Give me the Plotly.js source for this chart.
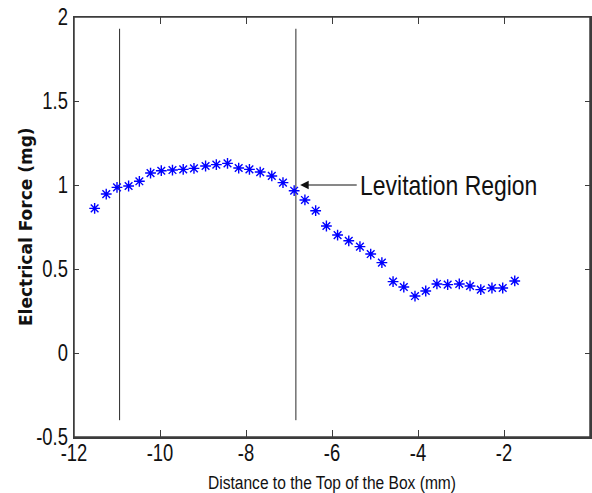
<!DOCTYPE html>
<html>
<head>
<meta charset="utf-8">
<script src="https://cdn.plot.ly/plotly-3.0.1.min.js"></script>
<style>
  html, body { margin: 0; padding: 0; background: #ffffff; }
  #chart { width: 592px; height: 493px; }
</style>
</head>
<body>
<div id="chart"></div>
<script>
// Measured electrical force vs. distance to the top of the box
const distanceMm = [
  -11.52, -11.25, -11.00, -10.73, -10.48, -10.22, -9.97, -9.71, -9.46, -9.21,
  -8.94, -8.69, -8.43, -8.17, -7.92, -7.67, -7.40, -7.14, -6.88, -6.63,
  -6.38, -6.13, -5.87, -5.61, -5.35, -5.10, -4.84, -4.58, -4.33, -4.07,
  -3.82, -3.56, -3.31, -3.04, -2.79, -2.54, -2.28, -2.03, -1.75
];
const forceMg = [
  0.861, 0.946, 0.986, 0.994, 1.022, 1.071, 1.085, 1.089, 1.093, 1.099,
  1.113, 1.121, 1.129, 1.101, 1.093, 1.077, 1.054, 1.014, 0.966, 0.911,
  0.847, 0.756, 0.702, 0.668, 0.633, 0.589, 0.538, 0.425, 0.393, 0.339,
  0.369, 0.411, 0.407, 0.411, 0.399, 0.377, 0.387, 0.387, 0.429
];

// Boundaries of the levitation region and the vertical extent of the marker lines
const regionBounds = [-10.94, -6.84];
const boundSpan = [-0.40, 1.93];

// Arrow of the "Levitation Region" label: head point and tail point
const arrowHead = [-6.74, 1.0];
const arrowTail = [-5.39, 1.0];
const regionLabel = 'Levitation Region';

// Axis ranges and tick labels
const xRange = [-12, 0];
const yRange = [-0.5, 2];
const xTickVals = [-12, -10, -8, -6, -4, -2, 0];
const xTickText = ['-12', '-10', '-8', '-6', '-4', '-2', '0'];
const yTickVals = [-0.5, 0, 0.5, 1, 1.5, 2];
const yTickText = ['-0.5', '0', '0.5', '1', '1.5', '2'];

const sans = '"Liberation Sans", Arial, sans-serif';
const axisColor = '#3c3c3c';
const textColor = '#111111';

const traces = regionBounds.map(function (b) {
  return {
    type: 'scatter', mode: 'lines',
    x: [b, b], y: boundSpan,
    line: { color: '#2a2a2a', width: 1 }
  };
});

traces.push({
  type: 'scatter', mode: 'markers',
  x: distanceMm, y: forceMg,
  marker: {
    symbol: 'asterisk-open', size: 9,
    color: '#0000ff',
    line: { color: '#0000ff', width: 1.4 }
  }
});

const layout = {
  width: 592, height: 493,
  margin: { l: 74, r: 2, t: 17, b: 56 },
  font: { family: sans, color: textColor },
  showlegend: false,
  xaxis: {
    range: xRange,
    tickvals: xTickVals, ticktext: xTickText,
    ticks: 'inside', ticklen: 7, tickwidth: 1, tickcolor: axisColor,
    showline: true, linecolor: axisColor, linewidth: 1.5, mirror: 'ticks',
    showgrid: false, zeroline: false,
    tickfont: { size: 23 },
    title: {
      text: 'Distance to the Top of the Box (mm)',
      font: { size: 19 },
      standoff: 8
    }
  },
  yaxis: {
    range: yRange,
    tickvals: yTickVals, ticktext: yTickText,
    ticks: 'inside', ticklen: 5, tickwidth: 1, tickcolor: axisColor,
    showline: true, linecolor: axisColor, linewidth: 1.5, mirror: 'ticks',
    showgrid: false, zeroline: false,
    tickfont: { size: 23 }
  },
  // Box around the plotting area
  shapes: [{
    type: 'rect', xref: 'paper', yref: 'paper',
    x0: 0, x1: 1, y0: 0, y1: 1,
    line: { color: axisColor, width: 1.5 }
  }],
  annotations: [
    {
      // y-axis title
      text: 'Electrical Force (mg)', textangle: -90,
      xref: 'paper', yref: 'paper', x: -0.093, y: 0.5,
      xanchor: 'center', yanchor: 'middle', showarrow: false,
      font: { family: '"DejaVu Sans", sans-serif', size: 17, weight: 'bold', color: textColor }
    },
    {
      x: arrowHead[0], y: arrowHead[1], xref: 'x', yref: 'y',
      ax: arrowTail[0], ay: arrowTail[1], axref: 'x', ayref: 'y',
      text: '', showarrow: true,
      arrowhead: 2, arrowsize: 1.7, arrowwidth: 1, arrowcolor: textColor
    },
    {
      x: arrowTail[0], y: arrowTail[1], xref: 'x', yref: 'y',
      xanchor: 'left', yanchor: 'middle',
      text: regionLabel, showarrow: false,
      font: { size: 28, color: textColor }
    }
  ]
};

// Narrow horizontal text to a condensed look, keeping each text's anchor fixed
function condense(nodes, sx, opts) {
  opts = opts || {};
  nodes.forEach(function (t) {
    let x = parseFloat(t.getAttribute('x')) || 0;
    if (opts.pivot === 'left') {
      x = t.getBBox().x;
    }
    const dy = opts.dy || 0;
    const prev = t.getAttribute('transform') || '';
    t.setAttribute('transform', prev + ' translate(' + x + ',' + dy + ') scale(' + sx + ',1) translate(' + (-x) + ',0)');
  });
}

Plotly.newPlot('chart', traces, layout, { displayModeBar: false, staticPlot: true }).then(function (gd) {
  condense(gd.querySelectorAll('.xtick text'), 0.8, { dy: -5 });
  condense(gd.querySelectorAll('.ytick text'), 0.8);
  condense(gd.querySelectorAll('.g-xtitle text'), 0.82);
  const labels = Array.prototype.filter.call(
    gd.querySelectorAll('.annotation-text'),
    function (t) { return t.textContent === regionLabel; }
  );
  condense(labels, 0.82, { pivot: 'left' });
});
</script>
</body>
</html>
